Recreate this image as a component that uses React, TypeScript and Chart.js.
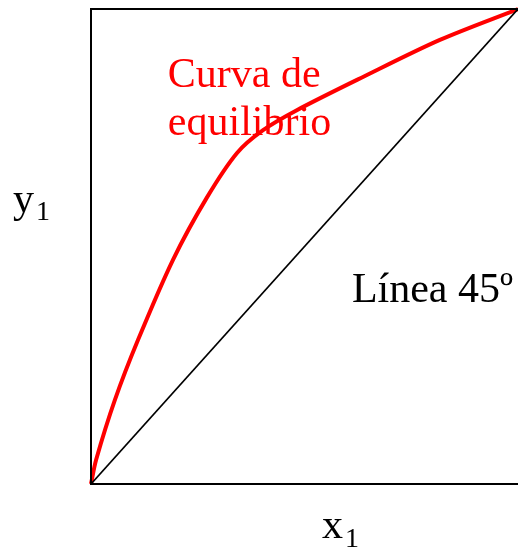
import React, { useEffect, useRef } from "react";
import { Chart, registerables } from "chart.js";

Chart.register(...registerables);

const curveX = [0, 0.012, 0.056, 0.110, 0.192, 0.272, 0.342, 0.403, 0.482, 0.637, 0.817, 1];
const curveY = [0, 0.051, 0.177, 0.303, 0.472, 0.604, 0.697, 0.745, 0.787, 0.857, 0.935, 1];
const diagX = [0, 1];
const diagY = [0, 1];
const curveLabel = ["Curva de", "equilibrio"];
const diagLabel = "Línea 45º";
const xTitle = ["x", "1"];
const yTitle = ["y", "1"];

const FONT = "'Liberation Serif', 'DejaVu Serif', serif";

const annotations = {
  id: "annotations",
  afterDraw(chart: any) {
    const { ctx, chartArea, width } = chart;
    const xs = chart.scales.x;
    const ys = chart.scales.y;
    ctx.save();
    // frame (left, top, bottom; right side runs off the canvas)
    ctx.strokeStyle = "#000";
    ctx.lineWidth = 2;
    ctx.beginPath();
    ctx.moveTo(width, chartArea.top);
    ctx.lineTo(chartArea.left, chartArea.top);
    ctx.lineTo(chartArea.left, chartArea.bottom);
    ctx.lineTo(width, chartArea.bottom);
    ctx.stroke();
    ctx.textBaseline = "alphabetic";
    ctx.textAlign = "left";
    // curve label
    ctx.fillStyle = "#ff0000";
    ctx.font = `42px ${FONT}`;
    ctx.fillText(curveLabel[0], xs.getPixelForValue(0.18), ys.getPixelForValue(0.835));
    ctx.fillText(curveLabel[1], xs.getPixelForValue(0.18), ys.getPixelForValue(0.735));
    // diagonal label
    ctx.fillStyle = "#000";
    ctx.fillText(diagLabel, xs.getPixelForValue(0.611), ys.getPixelForValue(0.383));
    // axis titles
    const yX = 13, yB = 212;
    ctx.font = `42px ${FONT}`;
    ctx.fillText(yTitle[0], yX, yB);
    const yw = ctx.measureText(yTitle[0]).width;
    ctx.font = `28px ${FONT}`;
    ctx.fillText(yTitle[1], yX + yw + 2, yB + 8);
    const xX = 322, xB = 538;
    ctx.font = `42px ${FONT}`;
    ctx.fillText(xTitle[0], xX, xB);
    const xw = ctx.measureText(xTitle[0]).width;
    ctx.font = `28px ${FONT}`;
    ctx.fillText(xTitle[1], xX + xw + 2, xB + 9);
    ctx.restore();
  },
};

export default function App() {
  const ref = useRef<HTMLCanvasElement>(null);
  useEffect(() => {
    if (!ref.current) return;
    const chart = new Chart(ref.current, {
      type: "scatter",
      data: {
        datasets: [
          {
            data: diagX.map((x, i) => ({ x, y: diagY[i] })),
            showLine: true,
            borderColor: "#000",
            borderWidth: 1.8,
            pointRadius: 0,
            clip: false as any,
          },
          {
            data: curveX.map((x, i) => ({ x, y: curveY[i] })),
            showLine: true,
            borderColor: "#ff0000",
            borderWidth: 4,
            pointRadius: 0,
            tension: 0.3,
            clip: false as any,
          },
        ],
      },
      options: {
        responsive: false,
        animation: false,
        layout: { padding: { left: 91, right: 0, top: 9, bottom: 64 } },
        plugins: { legend: { display: false }, tooltip: { enabled: false } },
        scales: {
          x: { type: "linear", min: 0, max: 1, display: false },
          y: { type: "linear", min: 0, max: 1, display: false },
        },
      },
      plugins: [annotations],
    });
    return () => chart.destroy();
  }, []);
  return (
    <div style={{ position: "absolute", left: 0, top: 0, width: 518, height: 548, background: "#fff" }}>
      <canvas ref={ref} width={518} height={548} />
    </div>
  );
}
